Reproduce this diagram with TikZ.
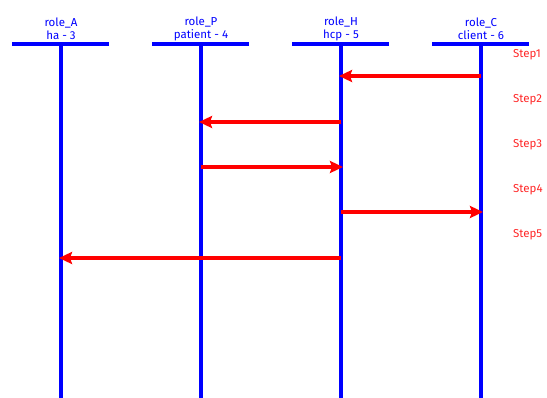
\documentclass[tikz,border=0pt]{standalone}
\usepackage{fontspec}
\setmainfont{Fira Sans}
\usetikzlibrary{arrows.meta}
\begin{document}
\begin{tikzpicture}[x=1pt,y=-1pt,
  lifeline/.style={draw=blue, line width=3.8pt},
  headbar/.style={draw=blue, line width=3.8pt},
  rolelabel/.style={text=blue, font=\fontsize{11.5}{12.5}\selectfont, align=center, inner sep=0pt},
  steplabel/.style={text=red!85!white, font=\fontsize{11.5}{13}\selectfont, anchor=west, inner sep=0pt},
  msg/.style={draw=red, line width=3.8pt, -{Stealth[length=13pt,width=12pt,inset=2pt]}, shorten >=-2pt}]
\useasboundingbox (0,0) rectangle (547,398);
\foreach \n/\x/\r/\s in {A/61/role\_A/ha - 3, P/201/role\_P/patient - 4, H/341/role\_H/hcp - 5, C/481/role\_C/client - 6}{
  \coordinate (\n l) at (\x-49,44);
  \coordinate (\n r) at (\x+48,44);
  \coordinate (\n top) at (\x,44);
  \coordinate (\n bot) at (\x,398);
  \draw[headbar] (\n l) -- (\n r);
  \draw[lifeline] (\n top) -- (\n bot);
  \node[rolelabel] (\n label) at (\x,29) {\r\\\s};
}
\foreach \i/\y in {1/55,2/100,3/145,4/190,5/235}{
  \node[steplabel] (step\i) at (513,\y) {Step\i};
}
\coordinate (C1) at (481,76);  \coordinate (H1) at (341,76);
\coordinate (H2) at (341,122); \coordinate (P2) at (201,122);
\coordinate (P3) at (201,167); \coordinate (H3) at (341,167);
\coordinate (H4) at (341,212); \coordinate (C4) at (481,212);
\coordinate (H5) at (341,258); \coordinate (A5) at (61,258);
\draw[msg] (C1) -- (H1);
\draw[msg] (H2) -- (P2);
\draw[msg] (P3) -- (H3);
\draw[msg] (H4) -- (C4);
\draw[msg] (H5) -- (A5);
\end{tikzpicture}
\end{document}
